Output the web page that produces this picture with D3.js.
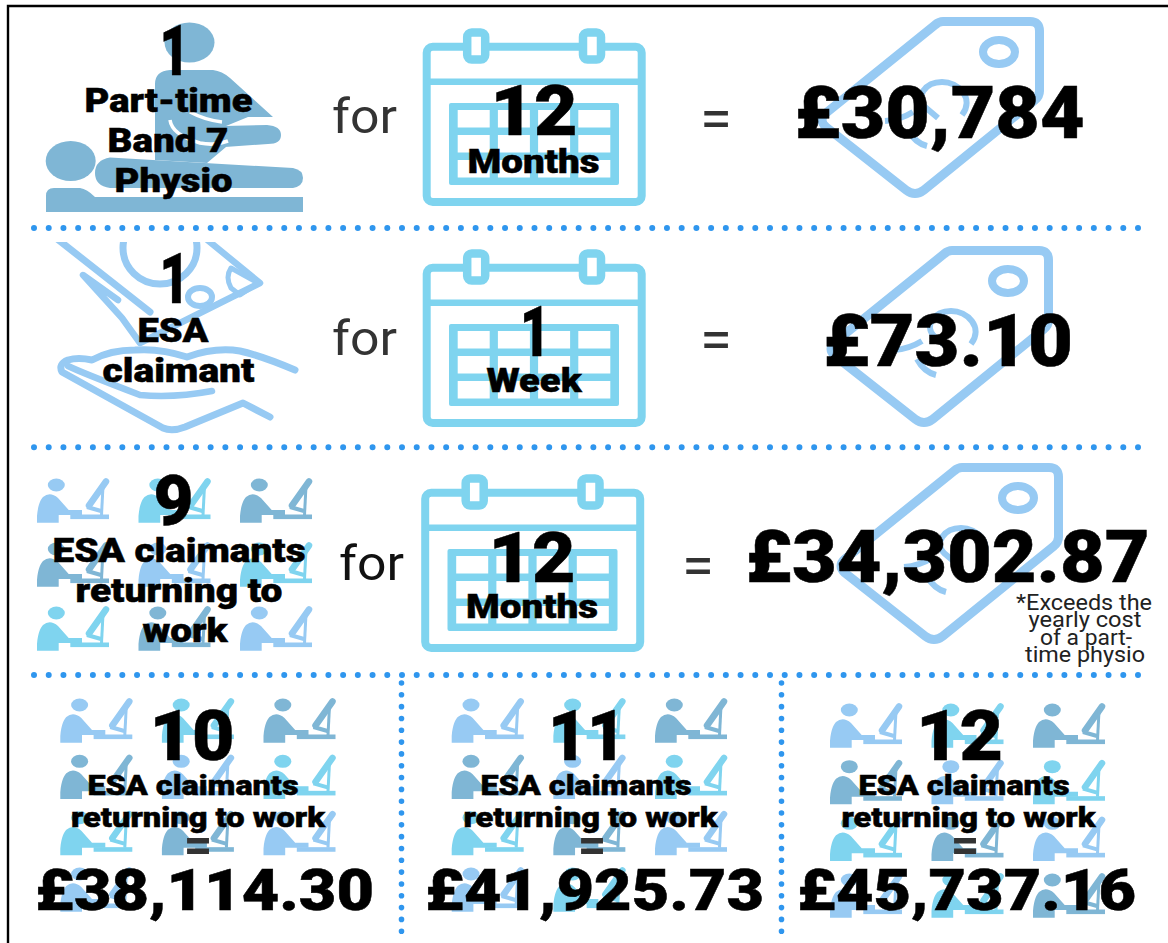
<!DOCTYPE html>
<html>
<head>
<meta charset="utf-8">
<style>
html,body{margin:0;padding:0;background:#fff;overflow:hidden}
svg{display:block}
text{font-family:Roboto,"Liberation Sans",sans-serif}
</style>
<script src="https://cdnjs.cloudflare.com/ajax/libs/d3/7.8.5/d3.min.js"></script>
</head>
<body>
<script>
// ---- content ----
const topLabels = [["Part-time","Band 7","Physio"],["ESA","claimant"],["ESA claimants","returning to","work"]];
const topCounts = ["1","1","9"];
const durationCounts = ["12","1","12"];
const durationUnits = ["Months","Week","Months"];
const topAmounts = ["£30,784","£73.10","£34,302.87"];
const footnoteLines = ["*Exceeds the","yearly cost","of a part-","time physio"];
const groupCounts = [10,11,12];
const groupAmounts = ["£38,114.30","£41,925.73","£45,737.16"];
const groupLabel = ["ESA claimants","returning to work"];
const claimantsInRow3 = 9;

// ---- palette + layout (separate from content) ----
const C = {dark:"#7fb6d5", light:"#97caf3", cyan:"#7fd4ef", dot:"#2f96ee", ink:"#000", grey:"#333"};
const peopleCycle = [C.light,C.cyan,C.dark,C.dark,C.light,C.cyan,C.cyan,C.dark,C.light,C.light,C.cyan,C.dark];

const svg = d3.select("body").append("svg").attr("width",1168).attr("height",943);

// frame
svg.append("path").attr("d","M8,943V6H1168").attr("fill","none").attr("stroke","#000").attr("stroke-width",2.4);

// dotted rules
const rules = [[34,228,1142,228],[34,447.3,1142,447.3],[34,675,1142,675],[401.5,683,401.5,936],[781.5,683,781.5,936]];
svg.append("g").selectAll("line").data(rules).join("line")
  .attr("x1",d=>d[0]).attr("y1",d=>d[1]).attr("x2",d=>d[2]).attr("y2",d=>d[3])
  .attr("stroke",C.dot).attr("stroke-linecap","round")
  .attr("stroke-width",(d,i)=>i<3?6:5.6)
  .attr("stroke-dasharray",(d,i)=>i<3?"0 14.72":"0 11.82");

// physio icon
const physio = svg.append("g").attr("fill",C.dark);
physio.append("ellipse").attr("cx",189.5).attr("cy",42.5).attr("rx",25).attr("ry",20);
physio.append("ellipse").attr("cx",70.7).attr("cy",161).attr("rx",25).attr("ry",20);
physio.append("path").attr("d","M110,157.5L293,168Q303,170 303,178Q303,186 293,188H110Q95,186 95,173Q95,160 110,157.5Z");
physio.append("path").attr("d","M46,212V196Q46,188 54,188H80Q87,189 95,197H303V212Z");
physio.append("path").attr("d","M155,160V84Q155,71 170,70H213Q222,71 230,78L273,117H248L226,126V147L207,163Z");
physio.append("path").attr("d","M225,126L267,125Q281,126 281,135Q281,144 268,144L225,147Z");
physio.append("path").attr("d","M190,112Q205,120 222,122").attr("fill","none").attr("stroke","#fff").attr("stroke-width",3.5);
physio.append("path").attr("d","M170,120Q172,135 200,143Q215,146 228,141").attr("fill","none").attr("stroke","#fff").attr("stroke-width",3.5);
physio.append("path").attr("d","M100,156H155").attr("fill","none").attr("stroke","#fff").attr("stroke-width",1.5);

// hand + banknote icon
const clip = svg.append("clipPath").attr("id","handclip");
clip.append("rect").attr("x",0).attr("y",242).attr("width",400).attr("height",200);
const hand = svg.append("g").attr("clip-path","url(#handclip)").attr("fill","none").attr("stroke",C.light).attr("stroke-width",7).attr("stroke-linecap","round").attr("stroke-linejoin","round");
hand.append("path").attr("d","M56,238L150,312");
hand.append("path").attr("d","M205,238L260,283L140,343L122,318L83,275L118,300").attr("stroke-width",6.5);
hand.append("ellipse").attr("cx",160).attr("cy",248).attr("rx",37).attr("ry",36);
hand.append("ellipse").attr("cx",200).attr("cy",297).attr("rx",12).attr("ry",9).attr("stroke-width",6);
hand.append("path").attr("d","M231,268Q225,277 231,288L240,295L258,283Z").attr("stroke-width",5);
hand.append("path").attr("d","M295,370Q262,356 240,351Q215,347 187,357Q160,348 135,350Q110,350 92,360Q78,357 68,360Q58,364 62,372L163,428Q172,432 185,427L243,403L270,417");
hand.append("path").attr("d","M68,366Q80,372 140,395Q175,398 212,391").attr("stroke-width",6.5);

// calendars and tags use one drawing each, moved per row
const calOffsets = [[0,0],[0,221],[-1.5,446]];
const tagOffsets = [[0,0],[9,229],[19,446]];

calOffsets.forEach((o,i)=>{
  const g = svg.append("g").attr("transform",`translate(${o[0]},${o[1]})`).attr("stroke",C.cyan);
  g.append("rect").attr("x",426.7).attr("y",46.7).attr("width",215).attr("height",155.3).attr("rx",6).attr("fill","#fff").attr("stroke-width",8);
  g.append("line").attr("x1",427).attr("x2",642).attr("y1",81.7).attr("y2",81.7).attr("stroke-width",6.5);
  [476.2,592].forEach(cx=>{
    g.append("rect").attr("x",cx-9).attr("y",32.5).attr("width",18).attr("height",27).attr("rx",4.5).attr("fill","#fff").attr("stroke-width",8.5);
  });
  g.append("rect").attr("x",449).attr("y",103).attr("width",170).attr("height",82).attr("rx",2).attr("fill",C.cyan).attr("stroke","none");
  const cx = d3.scaleLinear().domain([0,3]).range([457.7,578.3]);
  const cy = d3.scaleLinear().domain([0,2]).range([110,160]);
  const cells = d3.cross(d3.range(4),d3.range(3));
  g.append("g").selectAll("rect").data(cells).join("rect")
    .attr("x",d=>cx(d[0])).attr("y",d=>cy(d[1])).attr("width",32).attr("height",17.5)
    .attr("fill","#fff").attr("stroke","none");
});

tagOffsets.forEach(o=>{
  const g = svg.append("g").attr("transform",`translate(${o[0]},${o[1]})`).attr("fill","none").attr("stroke",C.light).attr("stroke-linecap","butt");
  g.append("path").attr("stroke-width",9).attr("stroke-linejoin","round")
    .attr("d","M943,21.5H1030Q1039.5,21.5 1039.5,31V91Q1039.5,96 1035,100L924,190Q915,197 906,190L826,127Q818,120 826,113L935,25Q939,21.5 943,21.5Z");
  g.append("ellipse").attr("cx",999).attr("cy",52).attr("rx",16).attr("ry",12).attr("stroke-width",8);
  g.append("path").attr("stroke-width",6).attr("d","M962,115C975,98 958,82 942,82C925,82 915,97 925,107L938,118");
  g.append("path").attr("stroke-width",6).attr("d","M885,121Q900,120 913,112");
  g.append("path").attr("stroke-width",6).attr("d","M908,130Q915,143 927,146");
});

// worker pictograms
function person(sel,x,y,fill){
  const g = sel.append("g").attr("transform",`translate(${x},${y})`).attr("fill",fill);
  g.append("ellipse").attr("cx",19.3).attr("cy",7).attr("rx",8.5).attr("ry",6.5);
  g.append("path").attr("d","M0,44.7V38C1,26 4,21 6,19Q13,13 21,20L31.7,32H45V37H21.7V44.7Z");
  g.append("rect").attr("x",33.3).attr("y",36.5).attr("width",38.7).attr("height",4.6);
  g.append("line").attr("x1",69).attr("y1",3.5).attr("x2",52).attr("y2",27.5).attr("stroke",fill).attr("stroke-width",6.5).attr("stroke-linecap","round");
  g.append("line").attr("x1",66).attr("y1",8).attr("x2",64.5).attr("y2",37).attr("stroke",fill).attr("stroke-width",3);
  g.append("line").attr("x1",50).attr("y1",29).attr("x2",64).attr("y2",33).attr("stroke",fill).attr("stroke-width",4);
}
function peopleGrid(n,xs,ys){
  const rows = Math.ceil(n/3);
  const x = d3.scaleLinear().domain([0,2]).range(xs);
  const y = d3.scaleLinear().domain([0,rows-1]).range(ys);
  const g = svg.append("g");
  d3.range(n).forEach(k=>person(g,x(k%3),y(Math.floor(k/3)),peopleCycle[k]));
}
peopleGrid(claimantsInRow3,[37,240],[478,606]);
peopleGrid(groupCounts[0],[60.3,263.5],[698,867]);
peopleGrid(groupCounts[1],[451.7,655],[698,867]);
peopleGrid(groupCounts[2],[830,1033],[703,873]);

// text
const T = svg.append("g");
function put(str,cx,base,size,weight,width,fill){
  const t = T.append("text").attr("x",cx).attr("y",base).attr("text-anchor","middle")
    .attr("font-size",size).attr("font-weight",weight).attr("fill",fill||C.ink).text(str);
  if(width){t.attr("textLength",width).attr("lengthAdjust","spacingAndGlyphs");}
  if(weight===900){t.attr("stroke",C.ink).attr("stroke-width",0.5);}
  return t;
}
// row counts
[[174.5,75,30],[174.5,303,30],[173.5,525,40]].forEach((p,i)=>put(topCounts[i],p[0],p[1],70,900,p[2]));
// row labels
[
 [[168.5,112,168],[168,152,121],[173.5,192,118]],
 [[173,342,71],[178.5,382,152]],
 [[179,562,253],[179,602,207],[185,642,85]]
].forEach((rows,i)=>rows.forEach((p,j)=>put(topLabels[i][j],p[0],p[1],34,900,p[2])));
// "for"
[[364.5,133],[364.5,355],[371.5,580]].forEach((p,i)=>put("for",p[0],p[1],48,400,65,i==2?"#111":C.grey));
// durations
[[534,135,87],[535,356,30],[532,582,87]].forEach((p,i)=>put(durationCounts[i],p[0],p[1],70,900,p[2]));
[[533.5,173,132],[534,392,95],[532,618,132]].forEach((p,i)=>put(durationUnits[i],p[0],p[1],34,900,p[2]));
// equals
[[716,138],[716,359],[698,585]].forEach(p=>put("=",p[0],p[1],58,400,null,C.grey));
// row amounts
[[939.5,138,72,290],[948,366,72,250],[947.5,582,72,404]].forEach((p,i)=>put(topAmounts[i],p[0],p[1],p[2],900,p[3]));
// footnote
[[1084,610,136],[1085,627,113],[1086,645,92],[1085,662,120]].forEach((p,i)=>put(footnoteLines[i],p[0],p[1],22,400,p[2],"#222"));
// bottom groups
[[192,85,193,198,198,204.5],[587,78,586,590.5,592,594.5],[959.5,87,964,968.5,965,966.5]].forEach((p,i)=>{
  put(String(groupCounts[i]),p[0],760,70,900,p[1]);
  put(groupLabel[0],p[2],795,28,900,211);
  put(groupLabel[1],p[3],827,28,900,254);
  put("=",p[4],862,50,700,null,C.grey);
  put(groupAmounts[i],p[5],910,58,900,339);
});
</script>
</body>
</html>
